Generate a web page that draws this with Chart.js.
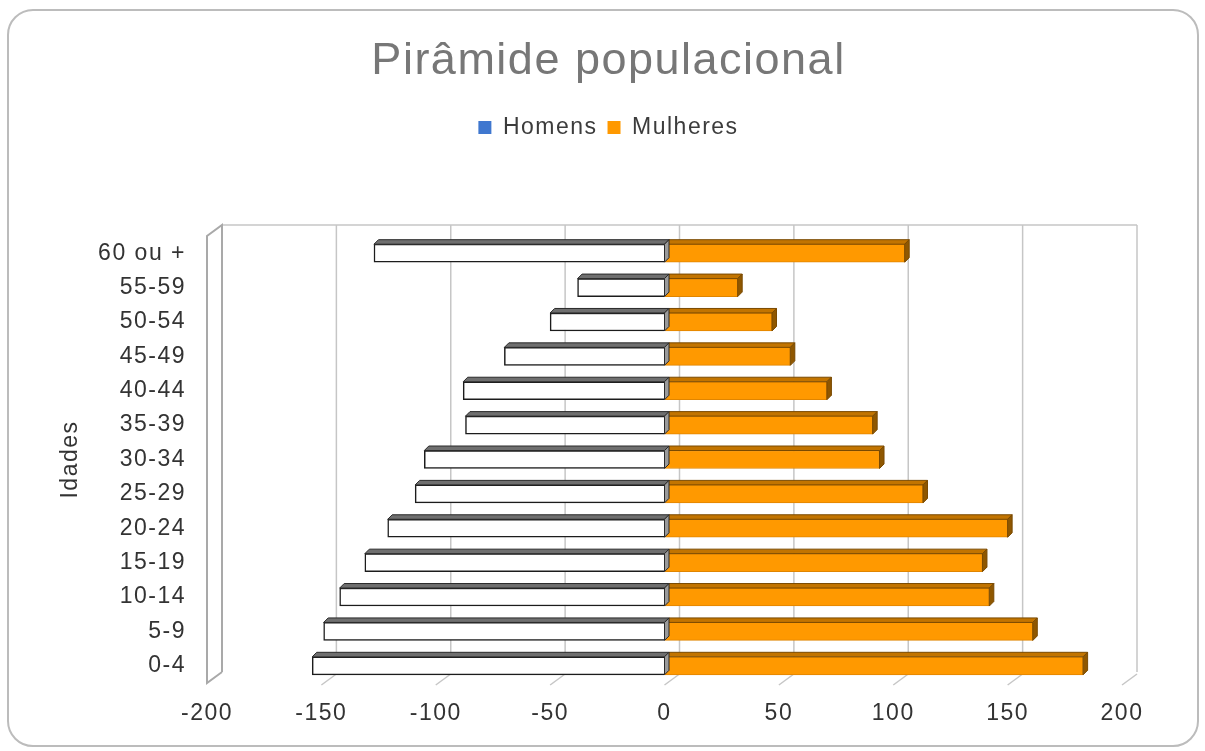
<!DOCTYPE html>
<html>
<head>
<meta charset="utf-8">
<script src="https://cdn.jsdelivr.net/npm/chart.js@4.4.1/dist/chart.umd.min.js"></script>
<style>
  html, body { margin: 0; padding: 0; background: #ffffff; }
  #wrap { position: relative; width: 1205px; height: 751px; overflow: hidden; background: #ffffff; }
  #frame { position: absolute; left: 7px; top: 9px; width: 1192px; height: 738px; box-sizing: border-box;
           border: 2px solid #bcbcbc; border-radius: 26px; }
  #c { position: absolute; left: 0; top: 0; }
</style>
</head>
<body>
<div id="wrap">
  <div id="frame"></div>
  <canvas id="c" width="1205" height="751"></canvas>
</div>
<script>
// Age groups, top row first
const ageGroups = ['60 ou +', '55-59', '50-54', '45-49', '40-44', '35-39', '30-34',
                   '25-29', '20-24', '15-19', '10-14', '5-9', '0-4'];
// Men are plotted to the left of zero, women to the right
const homens   = [-127, -38, -50, -70, -88, -87, -105, -109, -121, -131, -142, -149, -154];
const mulheres = [ 105,  32,  47,  55,  71,  91,   94,  113,  150,  139,  142,  161,  183];
const seriesNames = ['Homens', 'Mulheres'];
const xTickValues = [-200, -150, -100, -50, 0, 50, 100, 150, 200];
const legendSwatches = ['#3f77cf', '#ff9900'];

const FONT = "'Liberation Sans', Arial, sans-serif";
Chart.defaults.font.family = FONT;

// Slightly open letter spacing for every canvas text
const letterSpacing = {
  id: 'letterSpacing',
  beforeUpdate(chart) { chart.ctx.letterSpacing = '1.5px'; },
  beforeDraw(chart) { chart.ctx.letterSpacing = '1.5px'; }
};

// Extra room between the legend and the plot
const legendGap = {
  id: 'legendGap',
  beforeInit(chart) {
    const fit = chart.legend.fit;
    chart.legend.fit = function () { fit.call(this); this.height += 87; };
  }
};

function stroke(ctx, pts) {
  ctx.beginPath();
  ctx.moveTo(pts[0][0], pts[0][1]);
  for (let i = 1; i < pts.length; i++) ctx.lineTo(pts[i][0], pts[i][1]);
  ctx.stroke();
}
function face(ctx, pts, fill, edge) {
  ctx.beginPath();
  ctx.moveTo(pts[0][0], pts[0][1]);
  for (let i = 1; i < pts.length; i++) ctx.lineTo(pts[i][0], pts[i][1]);
  ctx.closePath();
  ctx.fillStyle = fill;
  ctx.fill();
  ctx.strokeStyle = edge;
  ctx.lineWidth = 1;
  ctx.stroke();
}

// Box-like plot: back wall gridlines, left wall, floor ticks and bar depth faces
const WALL_DX = 15, WALL_DY = -11, BAR_D = 4.5;
const depth3d = {
  id: 'depth3d',
  beforeDatasetsDraw(chart) {
    const { ctx, chartArea: a, scales: { x } } = chart;
    ctx.save();
    ctx.lineWidth = 1.5;
    ctx.strokeStyle = '#c6c6c6';
    x.ticks.forEach(t => {
      if (t.value === x.min) return;
      const px = x.getPixelForValue(t.value);
      stroke(ctx, [[px + WALL_DX, a.top + WALL_DY], [px + WALL_DX, a.bottom + WALL_DY]]);
      stroke(ctx, [[px, a.bottom + 2], [px + WALL_DX, a.bottom + WALL_DY + 2]]);
    });
    stroke(ctx, [[a.left + WALL_DX, a.top + WALL_DY], [a.right + WALL_DX, a.top + WALL_DY]]);
    ctx.strokeStyle = '#a9a9a9';
    ctx.lineWidth = 2;
    stroke(ctx, [[a.left + WALL_DX, a.bottom + WALL_DY], [a.left, a.bottom], [a.left, a.top],
                 [a.left + WALL_DX, a.top + WALL_DY], [a.left + WALL_DX, a.bottom + WALL_DY]]);
    ctx.restore();
  },
  afterDatasetDraw(chart, args) {
    const ds = chart.data.datasets[args.index];
    const ctx = chart.ctx;
    ctx.save();
    args.meta.data.forEach(bar => {
      const p = bar.getProps(['x', 'y', 'base', 'height'], true);
      const top = p.y - p.height / 2, bottom = p.y + p.height / 2;
      const l = Math.min(p.x, p.base), r = Math.max(p.x, p.base);
      face(ctx, [[l, top], [r, top], [r + BAR_D, top - BAR_D], [l + BAR_D, top - BAR_D]], ds.topFace, ds.faceEdge);
      face(ctx, [[r, top], [r + BAR_D, top - BAR_D], [r + BAR_D, bottom - BAR_D], [r, bottom]], ds.sideFace, ds.faceEdge);
    });
    ctx.restore();
  }
};

new Chart(document.getElementById('c'), {
  type: 'bar',
  data: {
    labels: ageGroups,
    datasets: [
      {
        label: seriesNames[0], data: homens,
        backgroundColor: '#ffffff', borderColor: '#1c1c1c', borderWidth: 1.5, barThickness: 18,
        topFace: '#6f6f6f', sideFace: '#9a9a9a', faceEdge: '#2a2a2a'
      },
      {
        label: seriesNames[1], data: mulheres,
        backgroundColor: '#ff9900', borderColor: '#e08500', borderWidth: 1, barThickness: 18,
        topFace: '#c27400', sideFace: '#8f5700', faceEdge: '#7a4a00'
      }
    ]
  },
  options: {
    indexAxis: 'y',
    responsive: false,
    animation: false,
    events: [],
    layout: { padding: { left: 12, right: 0, top: 0, bottom: 0 } },
    plugins: {
      title: {
        display: true, text: 'Pirâmide populacional', color: '#777777',
        font: { size: 45, weight: 'normal' }, padding: { top: 35, bottom: 17 }
      },
      legend: {
        position: 'top',
        labels: {
          color: '#3c3c3c', font: { size: 23 }, boxWidth: 13, boxHeight: 13, padding: 10,
          generateLabels(chart) {
            const items = Chart.defaults.plugins.legend.labels.generateLabels(chart);
            items.forEach((it, i) => {
              it.fillStyle = legendSwatches[i];
              it.strokeStyle = legendSwatches[i];
              it.lineWidth = 0;
            });
            return items;
          }
        }
      },
      tooltip: { enabled: false }
    },
    scales: {
      x: {
        min: -200, max: 200, stacked: true,
        grid: { display: false, drawTicks: false },
        border: { display: false },
        afterBuildTicks(scale) { scale.ticks = xTickValues.map(v => ({ value: v })); },
        ticks: { color: '#333333', font: { size: 23 }, padding: 17, maxRotation: 0, autoSkip: false },
        afterFit(scale) { scale.height = 68; }
      },
      y: {
        stacked: true,
        grid: { display: false, drawTicks: false },
        border: { display: false },
        ticks: { color: '#333333', font: { size: 23 }, padding: 21, autoSkip: false },
        title: { display: true, text: 'Idades', color: '#333333', font: { size: 23 }, padding: { top: 45, bottom: 0 } },
        afterFit(scale) { scale.width = 195; }
      },
      y2: {
        type: 'category', position: 'right', display: true,
        grid: { display: false, drawTicks: false },
        border: { display: false },
        ticks: { display: false },
        afterFit(scale) { scale.width = 83; }
      }
    }
  },
  plugins: [letterSpacing, legendGap, depth3d]
});
</script>
</body>
</html>
